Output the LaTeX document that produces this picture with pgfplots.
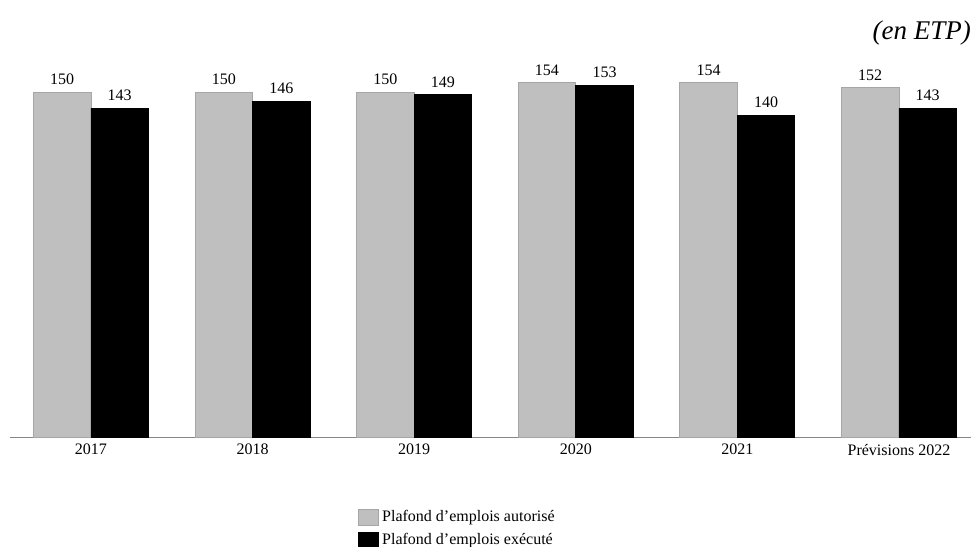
\documentclass[border=0pt]{standalone}
\usepackage{pgfplots}
\pgfplotsset{compat=1.18}
\usepackage{fontspec}
\setmainfont{Liberation Serif}
\definecolor{barg}{HTML}{BFBFBF}
\definecolor{barge}{HTML}{A6A6A6}
\definecolor{axg}{HTML}{868686}
\begin{document}
\begin{tikzpicture}
\begin{axis}[at={(0,0)},anchor=south west,scale only axis,width=480.5pt,height=184pt,
 xmin=-0.501,xmax=5.446,ymin=0,ymax=160,
 /pgf/number format/assume math mode=true,
 axis x line=bottom, axis y line=none, x axis line style={draw=axg,-},
 xtick=data, xticklabels={2017,2018,2019,2020,2021,Prévisions 2022}, major tick length=0pt,
 ticklabel style={font=\fontsize{8}{9}\selectfont},
 ybar, bar width=0.356,
 nodes near coords, nodes near coords style={font=\fontsize{8}{9}\selectfont, text=black},
 legend style={at={(axis description cs:0.3621,-0.19)}, anchor=north west, draw=none, inner sep=0pt, row sep=1.5pt,
   nodes={inner sep=1.5pt, font=\fontsize{8}{9}\selectfont}},
 legend cell align=left,
 legend image code/.code={\draw[#1] (0pt,-4pt) rectangle (10pt,4pt);},
]
\addplot[fill=barg,draw=barge,bar shift=-0.178] coordinates {(0,150)(1,150)(2,150)(3,154)(4,154)(5,152)};
\addplot[fill=black,draw=black,bar shift=0.178] coordinates {(0,143)(1,146)(2,149)(3,153)(4,140)(5,143)};
\legend{Plafond d’emplois autorisé, Plafond d’emplois exécuté}
\end{axis}
\node[anchor=base east, font=\fontsize{13.5}{15}\selectfont\itshape] at (484pt,198.5pt) {(en ETP)};
\pgfresetboundingbox
\path[use as bounding box] (-5pt,-54.5pt) rectangle (481.5pt,218.5pt);
\end{tikzpicture}
\end{document}
